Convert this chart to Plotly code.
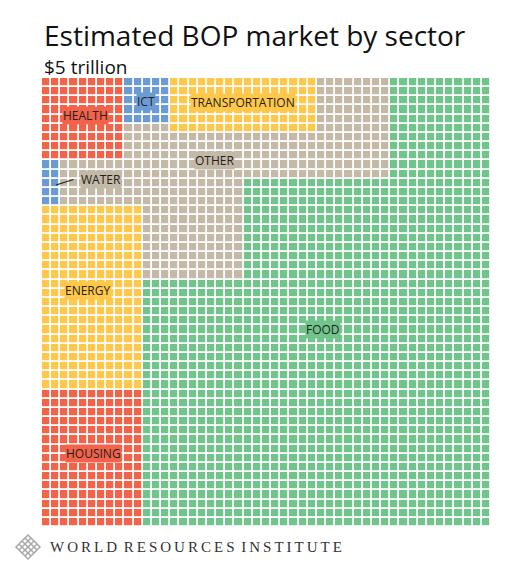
import plotly.graph_objects as go

# ---------------- data ----------------
N = 49  # grid is N x N squares
sectors = ["Food", "Energy", "Housing", "Other", "Transportation", "Health", "ICT", "Water"]
value_bn = [2888, 440, 330, 720, 192, 162, 50, 20]   # US$ billions (read from square counts)
unit_bn = 2                                          # each square ~ $2 billion
sector_colors = ["#72C48D", "#FFC84A", "#F3634A", "#C4B9A7", "#FFC84A", "#F3634A", "#6A9BD4", "#6A9BD4"]
labels = ["FOOD", "ENERGY", "HOUSING", "OTHER", "TRANSPORTATION", "HEALTH", "ICT", "WATER"]

# arrangement of the squares (col0, col1, row0, row1 inclusive); Food fills the rest
arrangement = {
    "Health": [(0, 8, 0, 8)],
    "ICT": [(9, 13, 0, 4)],
    "Transportation": [(14, 29, 0, 5)],
    "Water": [(0, 1, 9, 13)],
    "Energy": [(0, 10, 14, 33)],
    "Housing": [(0, 10, 34, 48)],
    "Other": [(30, 37, 0, 5), (9, 13, 5, 5), (9, 37, 6, 8), (2, 37, 9, 10),
              (2, 21, 11, 13), (11, 21, 14, 21)],
}

z = [[0] * N for _ in range(N)]
for name, rects in arrangement.items():
    idx = sectors.index(name)
    for c0, c1, r0, r1 in rects:
        for r in range(r0, r1 + 1):
            for c in range(c0, c1 + 1):
                z[r][c] = idx

n = len(sectors)
colorscale = []
for i, col in enumerate(sector_colors):
    colorscale.append([i / n, col])
    colorscale.append([(i + 1) / n, col])

# ---------------- geometry helpers (reference pixels -> data / paper) ----------------
OFF = 8            # page body margin
L, T, W = 42, 78, 449
pitch = W / N
def dx(px): return (px - L) / pitch - 0.5
def dy(py): return (py - T) / pitch - 0.5
def ppx(px): return (px - L) / W
def ppy(py): return (T + W - py) / W

fig = go.Figure(go.Heatmap(
    z=z, x=list(range(N)), y=list(range(N)),
    colorscale=colorscale, zmin=-0.5, zmax=n - 0.5,
    showscale=False, xgap=1.8, ygap=1.8, hoverinfo="skip",
))

label_pos = {  # pixel centres of the labels, and the colour underneath
    "Health": ((85, 115), "Health"), "ICT": ((145.5, 101), "ICT"),
    "Transportation": ((243, 102.5), "Transportation"),
    "Other": ((214.5, 160), "Other"), "Water": ((101, 179), "Other"),
    "Energy": ((88, 290.5), "Energy"), "Food": ((323, 329), "Food"),
    "Housing": ((93, 453), "Housing"),
}
annotations = []
for name, ((px, py), under) in label_pos.items():
    i = sectors.index(name)
    annotations.append(dict(
        x=dx(px), y=dy(py), xref="x", yref="y", text=labels[i], showarrow=False,
        font=dict(family="Open Sans", size=12, color="#231F20"),
        bgcolor=sector_colors[sectors.index(under)], borderpad=0,
    ))

annotations += [
    dict(x=0, y=ppy(35), xref="paper", yref="paper", xanchor="left", yanchor="middle",
         text="Estimated BOP market by sector", showarrow=False,
         font=dict(family="Open Sans", size=28, color="#111111")),
    dict(x=0, y=ppy(67), xref="paper", yref="paper", xanchor="left", yanchor="middle",
         text="$5 trillion", showarrow=False,
         font=dict(family="Open Sans", size=19, color="#111111")),
    dict(x=ppx(48), y=ppy(547), xref="paper", yref="paper", xanchor="left", yanchor="middle",
         text="\u2009".join("WORLD") + " \u2009" + "\u2009".join("RESOURCES") + " \u2009" + "\u2009".join("INSTITUTE"),
         showarrow=False, font=dict(family="Liberation Serif", size=15, color="#333333")),
]

shapes = [dict(type="line", xref="x", yref="y", x0=dx(56), y0=dy(185), x1=dx(73.5), y1=dy(179.5),
               line=dict(color="#222222", width=1.2))]

# simple lattice logo
cx, cy, r = 28, 547, 12
def P(x, y): return f"{ppx(x):.5f},{ppy(y):.5f}"
shapes.append(dict(type="path", xref="paper", yref="paper",
                   path=f"M{P(cx, cy - r)} L{P(cx + r, cy)} L{P(cx, cy + r)} L{P(cx - r, cy)} Z",
                   line=dict(color="#A8A8A8", width=1.5), fillcolor="rgba(0,0,0,0)"))
for k in (0.25, 0.5, 0.75):
    ax, ay = cx - r + k * r, cy - k * r
    bx, by = cx + k * r, cy + r - k * r
    shapes.append(dict(type="line", xref="paper", yref="paper", x0=ppx(ax), y0=ppy(ay),
                       x1=ppx(bx), y1=ppy(by), line=dict(color="#A8A8A8", width=1.5)))
    ax2, ay2 = cx + r - k * r, cy - k * r
    bx2, by2 = cx - k * r, cy + r - k * r
    shapes.append(dict(type="line", xref="paper", yref="paper", x0=ppx(ax2), y0=ppy(ay2),
                       x1=ppx(bx2), y1=ppy(by2), line=dict(color="#A8A8A8", width=1.5)))

fig.update_layout(
    width=530, height=576, autosize=False,
    margin=dict(l=L - OFF, r=530 - (L - OFF) - W, t=T - OFF, b=576 - (T - OFF) - W, pad=0),
    paper_bgcolor="white", plot_bgcolor="white",
    xaxis=dict(visible=False, range=[-0.5, N - 0.5], fixedrange=True),
    yaxis=dict(visible=False, range=[N - 0.5, -0.5], fixedrange=True),
    annotations=annotations, shapes=shapes, showlegend=False,
)

fig.write_html("out.html")
